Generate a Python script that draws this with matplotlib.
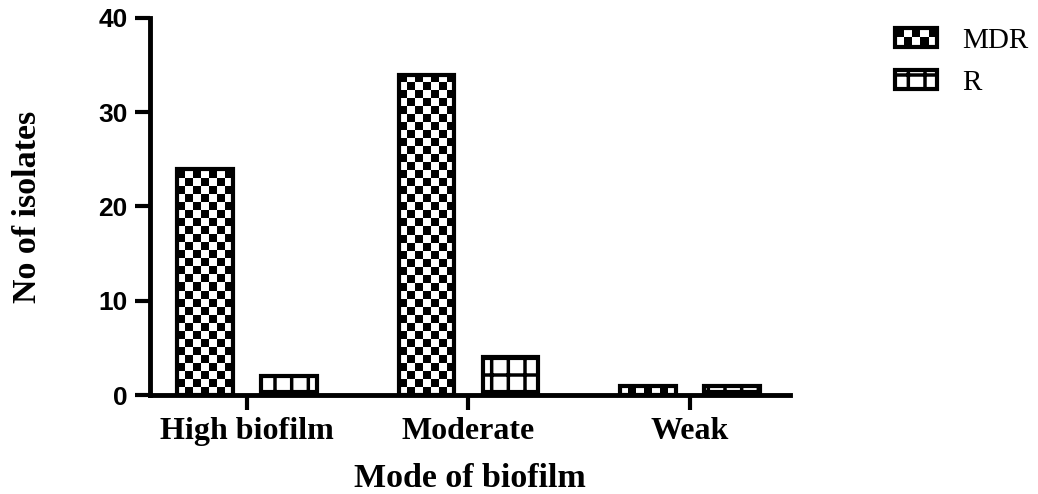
import numpy as np
import matplotlib
matplotlib.use("Agg")
import matplotlib.pyplot as plt
from matplotlib.patches import Rectangle
from matplotlib.legend_handler import HandlerBase

categories = ["High biofilm", "Moderate", "Weak"]
mdr_counts = [24, 34, 1]
r_counts = [2, 4, 1]

plt.rcParams["font.family"] = "Liberation Serif"
plt.rcParams["hatch.linewidth"] = 2.5


class CheckerHandler(HandlerBase):
    # legend key drawn as a small checkerboard
    def create_artists(self, legend, orig_handle, xdescent, ydescent,
                       width, height, fontsize, trans):
        artists = []
        nx, ny = 5, 2
        cw, ch = width / nx, height / ny
        for i in range(nx):
            for j in range(ny):
                if (i + j) % 2 == 1:
                    artists.append(Rectangle((-xdescent + i * cw, -ydescent + j * ch), cw, ch,
                                             facecolor="black", edgecolor="none", transform=trans))
        artists.append(Rectangle((-xdescent, -ydescent), width, height, facecolor="none",
                                 edgecolor="black", linewidth=3, transform=trans))
        return artists


fig = plt.figure(figsize=(10.38, 4.94), dpi=100)
ax = fig.add_axes([150 / 1038, 1 - 395 / 494, (790 - 150) / 1038, (395 - 18) / 494])

x = np.arange(len(categories))
width = 0.25
offset = 0.19

mdr_bars = ax.bar(x - offset, mdr_counts, width, color="white", edgecolor="none", zorder=2)
r_bars = ax.bar(x + offset, r_counts, width, color="white", edgecolor="black",
                linewidth=3, hatch="+", zorder=3)

# checkerboard fill for MDR bars
cell_h = 0.85
for bar in mdr_bars:
    x0, w, h = bar.get_x(), bar.get_width(), bar.get_height()
    nx = 7
    ny = int(np.ceil(h / cell_h))
    board = np.indices((ny, nx)).sum(axis=0) % 2
    im = ax.imshow(board, cmap="gray_r", vmin=0, vmax=1, origin="lower", aspect="auto",
                   extent=[x0, x0 + w, 0, ny * cell_h], interpolation="nearest", zorder=2.5)
    im.set_clip_path(bar)
ax.bar(x - offset, mdr_counts, width, color="none", edgecolor="black", linewidth=3, zorder=4)

ax.set_xlim(-(247 - 150) / 221.5, 2 + (790 - 690) / 221.5)
ax.set_ylim(0, 40)
ax.set_yticks([0, 10, 20, 30, 40])
ax.set_xticks(x)
ax.set_xticklabels(categories, fontsize=23, fontweight="bold")
for lab in ax.get_yticklabels():
    lab.set_fontfamily("Liberation Sans")
    lab.set_fontweight("bold")
    lab.set_fontsize(19)

for side in ["top", "right"]:
    ax.spines[side].set_visible(False)
for side in ["left", "bottom"]:
    ax.spines[side].set_linewidth(3.5)
ax.tick_params(axis="both", width=3, length=11, pad=5)

ax.set_xlabel("Mode of biofilm", fontsize=24.5, fontweight="bold", labelpad=12)
ax.set_ylabel("No of isolates", fontsize=24.5, fontweight="bold", labelpad=40)

mdr_key = Rectangle((0, 0), 1, 1)
r_key = Rectangle((0, 0), 1, 1, facecolor="white", edgecolor="black", linewidth=3, hatch="+")
fig.legend([mdr_key, r_key], ["MDR", "R"], handler_map={mdr_key: CheckerHandler()},
           loc="upper left", bbox_to_anchor=(0.837, 0.997), frameon=False,
           fontsize=21, handlelength=1.45, handleheight=0.6, labelspacing=0.55, handletextpad=0.86)

fig.savefig("out.png", dpi=100)
